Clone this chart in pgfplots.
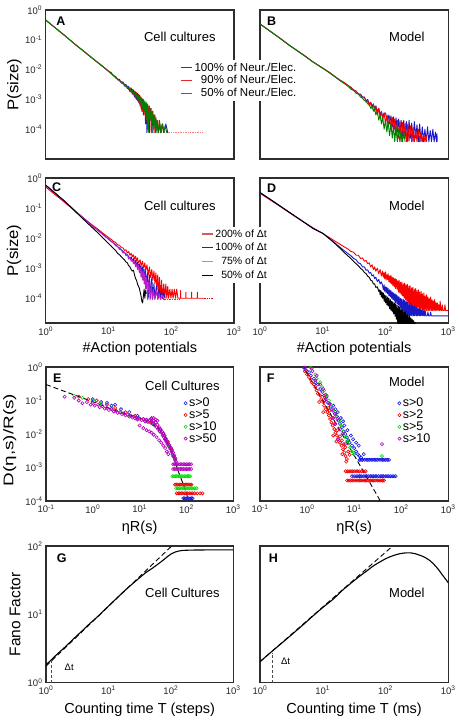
\documentclass[border=0pt]{standalone}
\usepackage{fontspec}
\setmainfont{Liberation Sans}
\usepackage{graphicx}
\usepackage{pgfplots}
\pgfplotsset{compat=1.18}
\definecolor{cBlue}{RGB}{25,25,200}
\definecolor{cRed}{RGB}{250,0,0}
\definecolor{cGreen}{RGB}{0,128,0}
\definecolor{cMag}{RGB}{185,30,200}
\definecolor{lBlue}{RGB}{50,50,160}
\definecolor{lRed}{RGB}{230,40,40}
\definecolor{lGreen}{RGB}{30,140,30}
\definecolor{lRedB}{RGB}{205,95,95}
\definecolor{lBlueB}{RGB}{35,35,150}
\definecolor{lMagB}{RGB}{190,130,205}
\definecolor{eBlue}{RGB}{20,20,230}
\definecolor{eRed}{RGB}{240,0,0}
\definecolor{eGreen}{RGB}{0,225,0}
\definecolor{eMag}{RGB}{180,0,190}
\definecolor{frm}{RGB}{45,45,45}
\newcommand{\tlab}[1]{10\textsuperscript{#1}}
\pgfplotsset{
 myax/.style={
  scale only axis,
  axis line style={line width=1.05pt, frm},
  major tick length=0pt, minor tick length=0pt,
  xminorticks=false, yminorticks=false,
  tick label style={font=\fontsize{9.5}{10}\selectfont, text=black!85},
  xlabel style={font=\fontsize{14.5}{15}\selectfont, anchor=center},
  ylabel style={font=\fontsize{15.5}{16}\selectfont, anchor=center},
 },
}
\tikzset{
 histo/.style={line width=0.9pt, mark=none, line join=round},
 circ/.style={only marks, mark=o, mark size=1.6pt, mark options={line width=0.6pt}},
 plbl/.style={font=\fontsize{13}{13}\selectfont},
 plet/.style={font=\bfseries\fontsize{12.5}{12.5}\selectfont},
}
\begin{document}
\begin{tikzpicture}
% ---------------- B ----------------
\begin{loglogaxis}[myax, at={(260pt,-10pt)}, anchor=north west, width=188.3pt, height=149pt,
 xmin=1, xmax=1000, ymin=1e-5, ymax=1, xtick={1,10,100,1000}, xticklabels={},
 ytick={1e-4,1e-3,1e-2,1e-1,1}, yticklabels={}]
\addplot[histo, cBlue] coordinates {(1,0.34)(2,0.12)(3,0.064)(5,0.030)(7,0.018)(10,0.0113)(13,0.0077)(16,0.0056)(19,0.0044)(22,0.0036)(25,0.0030)(28,0.0025)(31,0.0021)(34,0.0019)(37,0.0015)(40,0.0015)(43,0.0012)(46,0.0012)(49,0.0009)(52,0.0010)(55,0.0007)(58,0.0008)(61,0.0006)(64,0.0007)(67,0.0005)(70,0.0006)(74,0.0004)(78,0.0005)(82,0.0003)(86,0.0004)(90,0.00025)(95,0.00035)(100,0.00035)(105,0.0002)(110,0.0003)(116,0.00015)(122,0.00028)(128,0.00012)(134,0.00026)(140,0.0001)(147,0.00024)(154,0.00008)(161,0.00022)(169,0.00007)(177,0.0002)(186,0.00006)(195,0.0002)(205,0.00005)(215,0.00018)(226,0.000038)(237,0.0002)(249,0.00005)(261,0.00016)(274,0.000038)(288,0.00018)(302,0.00005)(317,0.00014)(333,0.000038)(350,0.00015)(367,0.000038)(385,0.00012)(404,0.000038)(424,0.00010)(445,0.000038)(467,0.00012)(490,0.000038)(515,0.00009)(540,0.000038)(567,0.00010)(595,0.000038)(625,0.00008)(650,0.000038)(660,0.00007)(665,0.000038)};
\addplot[histo, cRed] coordinates {(1,0.34)(2,0.12)(3,0.063)(5,0.031)(7,0.018)(10,0.0112)(13,0.0079)(16,0.0057)(19,0.0043)(22,0.0037)(25,0.0029)(28,0.0026)(31,0.0020)(34,0.0019)(37,0.0015)(40,0.0014)(43,0.0011)(46,0.0012)(49,0.0008)(52,0.0009)(55,0.0006)(58,0.0008)(61,0.0005)(64,0.0007)(67,0.0004)(70,0.0006)(74,0.0003)(78,0.0005)(82,0.00025)(86,0.0004)(90,0.0002)(95,0.00035)(100,0.00015)(105,0.0003)(110,0.00012)(116,0.00028)(122,0.0001)(128,0.00025)(134,0.00008)(140,0.00022)(147,0.00006)(154,0.0002)(161,0.00005)(169,0.00019)(177,0.000038)(186,0.00017)(195,0.00005)(205,0.00016)(215,0.000038)(226,0.00015)(237,0.00004)(249,0.00013)(261,0.000038)(274,0.00012)(288,0.000038)(302,0.0001)(317,0.000038)(333,0.0001)(350,0.000038)(367,0.00008)(385,0.000038)(404,0.00007)(424,0.000038)(445,0.00006)(455,0.000038)};
\addplot[histo, cGreen] coordinates {(1,0.34)(2,0.12)(3,0.063)(5,0.030)(7,0.018)(10,0.0110)(13,0.0076)(16,0.0055)(19,0.0042)(22,0.0034)(25,0.0028)(28,0.0022)(31,0.0020)(34,0.0016)(37,0.0015)(40,0.0012)(43,0.0011)(46,0.0009)(49,0.0009)(52,0.0007)(55,0.0007)(58,0.0005)(61,0.0006)(64,0.0004)(67,0.0005)(70,0.0003)(74,0.0004)(78,0.0002)(82,0.0003)(86,0.00015)(90,0.00025)(95,0.0001)(100,0.0002)(105,0.00008)(110,0.00018)(116,0.00006)(122,0.00015)(128,0.00005)(134,0.00013)(140,0.000038)(147,0.00012)(154,0.000038)(161,0.0001)(169,0.000038)(177,0.00009)(186,0.000038)(195,0.00008)(205,0.000038)};
\node[plbl] at (rel axis cs:0.78,0.817) {Model};
\node[plet] at (rel axis cs:0.062,0.925) {B};
\end{loglogaxis}
% ---------------- A ----------------
\begin{loglogaxis}[myax, at={(45.7pt,-10pt)}, anchor=north west, width=188.3pt, height=149pt,
 xmin=1, xmax=1000, ymin=1e-5, ymax=1, xtick={1,10,100,1000}, xticklabels={},
 ytick={1e-4,1e-3,1e-2,1e-1,1}, yticklabels={\tlab{-4},\tlab{-3},\tlab{-2},\tlab{-1},\tlab{0}},
 ylabel={\scalebox{1.08}[1]{P(size)}}, ylabel style={at={(axis description cs:-0.166,0.5)}},
 legend style={at={(0.703,0.668)}, anchor=north west, draw=none, fill=white, inner xsep=2pt, inner ysep=2pt, font=\fontsize{11.5}{12}\selectfont, row sep=1pt, column sep=1pt, nodes={inner sep=1pt}},
 legend cell align=right,
 legend image code/.code={\draw[#1] (0pt,0pt) -- (11pt,0pt);}]
\addlegendimage{lBlue, line width=1.3pt}
\addlegendentry{100\% of Neur./Elec.}
\addlegendimage{lRed, line width=1.3pt}
\addlegendentry{90\% of Neur./Elec.}
\addlegendimage{lGreen, line width=1.3pt}
\addlegendentry{50\% of Neur./Elec.}
\addplot[forget plot, histo, cBlue] coordinates {(1,0.46)(2,0.14)(3,0.068)(4,0.042)(6,0.021)(8,0.0132)(10,0.0088)(11,0.0080)(12,0.0061)(13,0.0059)(14,0.0045)(15,0.0047)(16,0.0035)(17,0.0039)(18,0.0028)(19,0.0032)(20,0.0023)(21,0.0027)(22,0.0018)(23,0.0024)(24,0.0015)(25,0.0021)(26,0.0012)(27,0.0018)(28,0.0010)(29,0.0016)(30,0.0008)(31,0.0014)(32,0.0006)(33,0.0012)(34,0.0004)(35,0.0010)(36,0.0003)(37,0.0008)(38,0.0006)(39,0.00015)(40,0.0007)(41,0.000076)(42,0.0005)(43,0.0002)(44,0.0006)(45,0.000076)(46,0.0004)(48,0.0002)(50,0.0004)(51,0.000076)(53,0.0003)(55,0.00015)(57,0.000076)(59,0.0002)(62,0.000076)(65,0.00015)(68,0.000076)(72,0.00015)(76,0.000076)(82,0.00015)(88,0.000076)};
\addplot[forget plot, histo, cRed] coordinates {(1,0.46)(2,0.14)(3,0.068)(4,0.042)(6,0.021)(8,0.0128)(10,0.0090)(11,0.0072)(12,0.0066)(13,0.0052)(14,0.0050)(15,0.0041)(16,0.0040)(17,0.0033)(18,0.0033)(19,0.0026)(20,0.0028)(21,0.0021)(22,0.0025)(23,0.0017)(24,0.0022)(25,0.0014)(26,0.0019)(27,0.0011)(28,0.0017)(29,0.0009)(30,0.0015)(31,0.0007)(32,0.0013)(33,0.0005)(34,0.0011)(35,0.0004)(36,0.0009)(37,0.0003)(38,0.0008)(40,0.0002)(41,0.0007)(42,0.0001)(44,0.0006)(45,0.0002)(47,0.0005)(48,0.000076)(50,0.0004)(52,0.0002)(54,0.0003)(55,0.000076)(57,0.00025)(59,0.0001)(61,0.0002)(63,0.000076)(66,0.00015)(69,0.000076)(73,0.00015)(77,0.000076)};
\addplot[forget plot, histo, cGreen] coordinates {(1,0.46)(2,0.14)(3,0.068)(4,0.042)(6,0.021)(8,0.0132)(10,0.0087)(11,0.0077)(12,0.0064)(13,0.0056)(14,0.0048)(15,0.0043)(16,0.0038)(17,0.0034)(18,0.0031)(19,0.0027)(20,0.0026)(21,0.0022)(22,0.0023)(23,0.0018)(24,0.0020)(25,0.0015)(26,0.0018)(27,0.0012)(28,0.0016)(29,0.0010)(30,0.0014)(31,0.0008)(32,0.0012)(33,0.0007)(34,0.0011)(35,0.0005)(36,0.0010)(37,0.0004)(38,0.0009)(39,0.0003)(40,0.0008)(41,0.0002)(42,0.0007)(43,0.000076)(45,0.0006)(46,0.0002)(48,0.0005)(49,0.000076)(51,0.0004)(53,0.0001)(55,0.0003)(57,0.000076)(59,0.0002)(62,0.000076)(65,0.0002)(68,0.000076)(72,0.00015)(76,0.000076)(80,0.00013)(85,0.000076)};
\addplot[forget plot, densely dotted, line width=0.7pt, cRed!50] coordinates {(88,0.000076)(320,0.000076)};
\node[plbl] at (rel axis cs:0.712,0.817) {Cell cultures};
\node[plet] at (rel axis cs:0.081,0.925) {A};
\end{loglogaxis}
% ---------------- D ----------------
\begin{loglogaxis}[myax, at={(260pt,-178pt)}, anchor=north west, width=188.3pt, height=145pt,
 xmin=1, xmax=1000, ymin=1.5e-5, ymax=1, xtick={1,10,100,1000}, xticklabels={\tlab{0},\tlab{1},\tlab{2},\tlab{3}},
 ytick={1e-4,1e-3,1e-2,1e-1,1}, yticklabels={},
 xlabel={\#Action potentials}, xlabel style={at={(axis description cs:0.5,-0.179)}}]
\addplot[histo, cRed] coordinates {(1,0.31)(2,0.12)(3,0.068)(5,0.034)(7,0.022)(10,0.0142)(13,0.0102)(16,0.0077)(19,0.0062)(22,0.0051)(25,0.0044)(28,0.0036)(31,0.0034)(34,0.0027)(37,0.0027)(40,0.0021)(43,0.0022)(46,0.0017)(49,0.0018)(52,0.0014)(55,0.0015)(58,0.0011)(61,0.0013)(64,0.0009)(67,0.0011)(70,0.0008)(74,0.001)(78,0.00065)(82,0.0009)(86,0.00055)
(90,8e-4)(92,5e-4)(95,7e-4)(97,4.5e-4)(100,7.5e-4)(102,4e-4)(105,6e-4)(108,4.2e-4)(110,6.5e-4)(113,3.5e-4)(116,5.5e-4)(119,3.2e-4)(122,5.8e-4)(125,3e-4)(128,5e-4)(131,2.6e-4)(135,4.8e-4)(138,2.4e-4)(142,4.5e-4)(145,2.1e-4)(149,4.2e-4)(153,2e-4)(157,3.8e-4)(161,1.6e-4)(165,3.9e-4)(169,1.5e-4)(173,3.4e-4)(178,1.3e-4)(182,3.5e-4)(187,1.2e-4)(192,3e-4)(197,1e-4)(202,3.2e-4)(207,9e-5)(212,2.8e-4)(218,8e-5)(223,2.9e-4)(229,7e-5)(235,2.5e-4)(241,6e-5)(247,2.6e-4)(253,5e-5)(260,2.2e-4)(266,3.9e-5)(273,2.3e-4)(280,5e-5)(287,2e-4)(294,3.9e-5)(302,2.1e-4)(309,3.9e-5)(317,1.8e-4)(325,5e-5)(333,1.9e-4)(342,3.9e-5)(350,1.6e-4)(359,3.9e-5)(368,1.7e-4)(378,3.9e-5)(387,1.4e-4)(397,3.9e-5)(407,1.5e-4)(417,3.9e-5)(428,1.2e-4)(439,3.9e-5)(450,1.3e-4)(461,3.9e-5)(473,1.1e-4)(485,3.9e-5)(497,1e-4)(510,3.9e-5)(523,1.1e-4)(536,3.9e-5)(550,9e-5)(564,3.9e-5)(578,8e-5)(592,3.9e-5)(607,9e-5)(623,3.9e-5)(638,7e-5)(655,3.9e-5)(671,7e-5)(688,3.9e-5)(706,6e-5)(724,3.9e-5)(742,8e-5)(761,3.9e-5)(780,3.9e-5)(800,6e-5)(820,3.9e-5)(862,3.9e-5)(884,6e-5)(906,3.9e-5)(1000,3.9e-5)};
\addplot[histo, cBlue] coordinates {(1,0.33)(2,0.125)(3,0.07)(5,0.034)(7,0.021)(10,0.0145)(13,0.0094)(16,0.0066)(19,0.0049)(22,0.0038)(25,0.0031)(28,0.0026)(31,0.0021)(34,0.0019)(37,0.0015)(40,0.0014)(43,0.0011)(46,0.0011)(49,0.00085)(52,0.00088)(55,0.00068)(58,0.00072)(61,0.00055)(64,0.0006)(67,0.00045)(70,0.0005)(74,0.00036)(78,0.00042)(82,0.0003)(86,0.00035)
(90,2.6e-4)(92,1.9e-4)(95,2.8e-4)(97,1.7e-4)(100,2.4e-4)(102,1.5e-4)(105,2.3e-4)(108,1.4e-4)(110,2.1e-4)(113,1.2e-4)(116,1.9e-4)(119,1.1e-4)(122,1.8e-4)(125,1e-4)(128,1.6e-4)(131,9e-5)(135,1.5e-4)(138,8e-5)(142,1.4e-4)(145,7e-5)(149,1.3e-4)(153,6.5e-5)(157,1.2e-4)(161,6e-5)(165,1.1e-4)(169,5e-5)(173,1e-4)(178,4.5e-5)(182,9.5e-5)(187,4e-5)(192,9e-5)(197,3.5e-5)(202,8.5e-5)(207,3e-5)(212,8e-5)(218,2.6e-5)(223,7.5e-5)(229,2.6e-5)(235,7e-5)(241,2.6e-5)(247,6.5e-5)(253,2.6e-5)(260,6e-5)(266,2.6e-5)(273,5.5e-5)(280,2.6e-5)(287,5.5e-5)(294,2.6e-5)(302,5e-5)(309,2.6e-5)(317,5e-5)(325,2.6e-5)(333,4.5e-5)(342,2.6e-5)(350,4.5e-5)(359,2.6e-5)(368,4e-5)(378,2.6e-5)(387,4e-5)(397,2.6e-5)(407,3.8e-5)(417,2.6e-5)(428,3.8e-5)(439,2.6e-5)(461,2.6e-5)(473,3.5e-5)(485,2.6e-5)(510,2.6e-5)(523,3.5e-5)(536,2.6e-5)(1000,2.6e-5)};
\addplot[histo, black] coordinates {(1,0.33)(2,0.125)(3,0.07)(5,0.034)(7,0.021)(10,0.0145)(13,0.0092)(16,0.0063)(19,0.0045)(22,0.0033)(25,0.0026)(28,0.0021)(31,0.0017)(34,0.0014)(37,0.0012)(40,0.00098)(43,0.00088)(46,0.00072)(49,0.00066)(52,0.00054)(55,0.0005)(58,0.0004)(61,0.00038)(64,0.0003)(67,0.0003)(70,0.00023)(74,0.00024)(78,0.00017)
(80,1.9e-4)(82,1.3e-4)(84,1.8e-4)(86,1.1e-4)(88,1.6e-4)(90,1e-4)(92,1.5e-4)(95,8e-5)(97,1.3e-4)(100,7e-5)(102,1.2e-4)(105,6e-5)(108,1.1e-4)(110,5.5e-5)(113,1e-4)(116,4.5e-5)(119,9e-5)(122,4e-5)(125,8e-5)(128,3.5e-5)(131,7.5e-5)(135,3e-5)(138,7e-5)(142,2.5e-5)(145,6.5e-5)(149,2e-5)(153,6e-5)(157,1.2e-5)(161,5.5e-5)(165,1.2e-5)(169,5e-5)(173,1.2e-5)(178,4.5e-5)(182,1.2e-5)(187,4e-5)(192,1.2e-5)(197,3.8e-5)(202,1.2e-5)(207,3.5e-5)(212,1.2e-5)(218,3e-5)(223,1.2e-5)(229,2.8e-5)(235,1.2e-5)(241,2.5e-5)(247,1.2e-5)(253,2.2e-5)(260,1.2e-5)(266,2e-5)(273,1.2e-5)(280,1.8e-5)(287,1.2e-5)(294,1.6e-5)(302,1.2e-5)};
\node[plbl] at (rel axis cs:0.78,0.81) {Model};
\node[plet] at (rel axis cs:0.062,0.93) {D};
\end{loglogaxis}
% ---------------- C ----------------
\begin{loglogaxis}[myax, at={(45.7pt,-178pt)}, anchor=north west, width=188.3pt, height=145pt,
 xmin=1, xmax=1000, ymin=1.5e-5, ymax=1, xtick={1,10,100,1000}, xticklabels={\tlab{0},\tlab{1},\tlab{2},\tlab{3}},
 ytick={1e-4,1e-3,1e-2,1e-1,1}, yticklabels={\tlab{-4},\tlab{-3},\tlab{-2},\tlab{-1},\tlab{0}},
 ylabel={\scalebox{1.08}[1]{P(size)}}, ylabel style={at={(axis description cs:-0.168,0.5)}},
 xlabel={\#Action potentials}, xlabel style={at={(axis description cs:0.5,-0.179)}},
 legend style={at={(0.815,0.665)}, anchor=north west, draw=none, fill=white, inner xsep=2pt, inner ysep=2pt, font=\fontsize{10.5}{11}\selectfont, row sep=3pt, column sep=1pt, nodes={inner sep=0.8pt}},
 legend cell align=right,
 legend image code/.code={\draw[#1] (0pt,0pt) -- (11pt,0pt);}]
\addlegendimage{lRedB, line width=1.3pt}
\addlegendentry{200\% of Δt}
\addlegendimage{lBlueB, line width=1.3pt}
\addlegendentry{100\% of Δt}
\addlegendimage{lMagB, line width=1.3pt}
\addlegendentry{75\% of Δt}
\addlegendimage{black, line width=1.3pt}
\addlegendentry{50\% of Δt}
\addplot[forget plot, histo, cRed] coordinates {(1,0.5)(2,0.155)(3,0.077)(4,0.047)(5,0.032)(6,0.024)(7,0.019)(8,0.015)(9,0.0125)(10,0.0105)(11,0.0092)(12,0.0078)(13,0.0072)(14,0.0060)(15,0.0058)(16,0.0048)(17,0.0048)(18,0.0039)(19,0.0041)(20,0.0032)(21,0.0036)(22,0.0027)(23,0.0031)(24,0.0024)(25,0.0028)(26,0.0020)(27,0.0025)(28,0.0017)(29,0.0022)(30,0.0015)(32,0.0019)(33,0.0012)(35,0.0017)(36,0.0010)(38,0.0015)(39,0.0008)(41,0.0013)(43,0.0006)(45,0.0011)(47,0.0005)(49,0.0009)(51,0.0004)(53,0.0008)(55,0.0003)(57,0.0007)(59,0.0002)(61,0.0006)(63,0.0001)(65,0.0005)(67,0.0001)(70,0.0004)(73,0.0001)(76,0.0003)(79,0.0001)(82,0.0003)(85,0.0001)(88,0.00025)(91,0.0001)(95,0.0002)(99,0.0001)(103,0.0002)(107,0.0001)(112,0.0002)(117,0.0001)(122,0.0002)(128,0.0001)(140,0.0001)(141,0.00018)(142,0.0001)(170,0.0001)(171,0.00016)(172,0.0001)(210,0.0001)(211,0.00016)(212,0.0001)(260,0.0001)(261,0.00016)(262,0.0001)(330,0.0001)};
\addplot[forget plot, histo, cBlue] coordinates {(1,0.57)(2,0.17)(3,0.077)(4,0.046)(5,0.031)(6,0.022)(7,0.017)(8,0.014)(9,0.0112)(10,0.0094)(11,0.008)(12,0.0068)(13,0.0061)(14,0.0052)(15,0.0047)(16,0.0041)(17,0.0037)(18,0.0033)(19,0.003)(20,0.0028)(22,0.0021)(23,0.0024)(24,0.0017)(25,0.0021)(26,0.0014)(27,0.0018)(28,0.0012)(29,0.0016)(30,0.0010)(31,0.0014)(32,0.0008)(33,0.0012)(34,0.0007)(35,0.0011)(36,0.0005)(37,0.0009)(38,0.0004)(39,0.0008)(40,0.0003)(42,0.0007)(43,0.0001)(45,0.0006)(47,0.0001)(49,0.0005)(51,0.0001)(53,0.0003)(55,0.0001)(58,0.00025)(61,0.0001)(64,0.0002)(67,0.0001)(70,0.00018)(73,0.0001)(76,0.00015)(80,0.0001)};
\addplot[forget plot, histo, cMag] coordinates {(1,0.58)(2,0.17)(3,0.078)(4,0.046)(5,0.030)(6,0.022)(7,0.017)(8,0.0135)(9,0.011)(10,0.0092)(11,0.0078)(12,0.0069)(13,0.0056)(14,0.0052)(15,0.0042)(16,0.0041)(17,0.0032)(18,0.0034)(19,0.0026)(20,0.0028)(21,0.0020)(22,0.0023)(23,0.0017)(24,0.0019)(25,0.0014)(26,0.0017)(27,0.0011)(28,0.0014)(29,0.0009)(30,0.0013)(31,0.0007)(32,0.0011)(33,0.0005)(34,0.0009)(35,0.0004)(36,0.0008)(37,0.0003)(38,0.0007)(39,0.0002)(40,0.0005)(42,0.00009)(44,0.0004)(46,0.00009)(48,0.0003)(50,0.00009)(52,0.0002)(55,0.00009)(58,0.00018)(61,0.00009)(64,0.00015)(68,0.00009)(72,0.00013)(76,0.00009)(80,0.00009)};
\addplot[forget plot, histo, black] coordinates {(1,0.58)(2,0.17)(3,0.075)(4,0.042)(5,0.027)(6,0.019)(7,0.014)(8,0.0105)(9,0.0083)(10,0.0066)(11,0.0055)(12,0.0045)(13,0.0039)(14,0.0031)(15,0.0028)(16,0.0024)(17,0.0021)(18,0.0019)(19,0.0016)(20,0.0015)(21,0.0012)(22,0.0011)(23,0.0009)(24,0.0008)(25,0.00085)(26,0.0006)(27,0.00045)(28,0.0004)(29,0.0003)(30,0.00025)(31,0.00022)(32,0.00016)(33,0.00012)(34,0.00008)(35,0.00007)(36,0.00012)(37,0.0002)(38,0.0001)(39,0.00018)(40,0.00014)};
\addplot[forget plot, densely dotted, line width=0.7pt, cMag] coordinates {(80,0.00009)(140,0.00009)};
\addplot[forget plot, densely dotted, line width=0.7pt, cRed] coordinates {(330,0.0001)(470,0.0001)};
\node[plbl] at (rel axis cs:0.712,0.81) {Cell cultures};
\node[plet] at (rel axis cs:0.058,0.94) {C};
\end{loglogaxis}
% ---------------- E ----------------
\begin{loglogaxis}[myax, at={(46pt,-367pt)}, anchor=north west, width=187.3pt, height=134pt,
 xmin=0.1, xmax=1000, ymin=1e-4, ymax=1, xtick={0.1,1,10,100,1000}, xticklabels={\tlab{-1},\tlab{0},\tlab{1},\tlab{2},\tlab{3}},
 ytick={1e-4,1e-3,1e-2,1e-1,1}, yticklabels={\tlab{-4},\tlab{-3},\tlab{-2},\tlab{-1},\tlab{0}},
 ylabel={\scalebox{1.35}[1]{D(η,s)/R(s)}}, ylabel style={at={(axis description cs:-0.193,0.455)}, font=\fontsize{14}{15}\selectfont},
 xlabel={ηR(s)}, xlabel style={at={(axis description cs:0.5,-0.2)}},
 legend style={at={(0.72,0.79)}, anchor=north west, draw=none, fill=none, font=\fontsize{12.5}{12.5}\selectfont, row sep=0pt, column sep=1pt, nodes={inner sep=0.8pt}},
 legend cell align=left,
 legend image code/.code={\draw[#1] plot coordinates {(0pt,0pt)};}]
\addplot[circ, eBlue] coordinates {(1,0.11)(1.5,0.09)(2,0.085)(2.5,0.07)(3,0.075)(4,0.055)(6,0.045)(9,0.035)(14,0.026)(20,0.02)(28,0.013)(36,0.007)(44,0.004)(52,0.0022)(86,0.00012)(92,0.00012)(98,0.00012)(105,0.00012)(112,0.00012)(120,0.00012)(128,0.00012)(135,0.00012)};
\addlegendentry{s>0}
\addplot[circ, eRed] coordinates {(0.5,0.13)(0.8,0.11)(1.2,0.1)(2,0.075)(3,0.06)(5,0.045)(8,0.035)(12,0.028)(18,0.022)(25,0.015)(32,0.01)(40,0.006)(48,0.0035)(55,0.002)(57,0.00031)(61,0.00031)(66,0.00031)(71,0.00031)(76,0.00031)(82,0.00031)(88,0.00031)(95,0.00031)(102,0.00031)(110,0.00031)(119,0.00031)(128,0.00031)(62,0.00017)(67,0.00017)(72,0.00017)(78,0.00017)(84,0.00017)(91,0.00017)(98,0.00017)(106,0.00017)(115,0.00017)(125,0.00017)(136,0.00017)(150,0.00017)(170,0.00017)(195,0.00017)(220,0.00017)};
\addlegendentry{s>5}
\addplot[circ, eGreen] coordinates {(0.4,0.14)(0.6,0.12)(1.0,0.1)(1.5,0.08)(2.5,0.06)(4,0.045)(6,0.036)(9,0.03)(14,0.024)(20,0.02)(27,0.012)(33,0.009)(38,0.006)(42,0.0045)(46,0.0035)(50,0.0025)(54,0.002)(58,0.0016)(50,0.00055)(54,0.00055)(58,0.00055)(62,0.00055)(67,0.00055)(72,0.00055)(78,0.00055)(84,0.00055)(90,0.00055)(97,0.00055)(104,0.00055)(112,0.00055)(120,0.00055)(60,0.00024)(65,0.00024)(70,0.00024)(76,0.00024)(82,0.00024)(88,0.00024)(95,0.00024)(102,0.00024)(110,0.00024)(118,0.00024)(127,0.00024)(137,0.00024)(150,0.00024)(165,0.00024)};
\addlegendentry{s>10}
\addplot[circ, eMag] coordinates {(0.25,0.13)(0.4,0.12)(0.5,0.1)(0.6,0.083)(0.75,0.09)(0.9,0.075)(1.0,0.085)(1.1,0.07)(1.3,0.075)(1.4,0.063)(1.6,0.068)(1.8,0.057)(2.0,0.06)(2.2,0.052)(2.5,0.055)(2.8,0.047)(3.1,0.05)(3.4,0.043)(3.8,0.045)(4.2,0.039)(4.6,0.041)(5.0,0.036)(5.5,0.038)(6.0,0.033)(6.5,0.035)(7,0.031)(7.5,0.033)(8,0.029)(8.5,0.031)(9,0.027)(10,0.029)(11,0.026)(12,0.028)(13,0.024)(14,0.027)(15,0.023)(16,0.026)(17,0.022)(17.5,0.028)(18,0.024)(19,0.02)(20,0.025)(21,0.018)(22,0.022)(23,0.016)(24,0.019)(25,0.014)(26,0.016)(27,0.012)(28,0.014)(29,0.011)(30,0.012)(31,0.009)(32,0.0105)(33,0.008)(34,0.009)(35,0.0068)(36,0.0075)(37,0.0058)(38,0.0062)(39,0.005)(40,0.0054)(42,0.0043)(43,0.0047)(45,0.0036)(46,0.004)(48,0.003)(49,0.0033)(51,0.0025)(52,0.0028)(54,0.0021)(55,0.0023)(57,0.0017)(58,0.0019)(60,0.0015)(10,0.018)(12,0.015)(14,0.013)(16,0.012)(18,0.011)(20,0.0095)(23,0.008)(26,0.0065)(29,0.0055)(32,0.0045)(35,0.0038)(38,0.003)(41,0.0025)(18,0.03)(20,0.03)(22,0.027)(24,0.025)(52,0.00125)(56,0.00125)(60,0.00125)(64,0.00125)(69,0.00125)(74,0.00125)(80,0.00125)(86,0.00125)(93,0.00125)(100,0.00125)(108,0.00125)(117,0.00125)(126,0.00125)(52,0.0009)(56,0.0009)(60,0.0009)(64,0.0009)(69,0.0009)(74,0.0009)(80,0.0009)(86,0.0009)(93,0.0009)(100,0.0009)(108,0.0009)(117,0.0009)(126,0.0009)};
\addlegendentry{s>50}
\addplot[forget plot, black, dash pattern=on 5pt off 3pt, line width=0.9pt] coordinates {(0.1,0.30)(0.3,0.17)(1,0.092)(3,0.05)(10,0.03)(15,0.024)(20,0.019)(25,0.0145)(30,0.011)(35,0.0075)(40,0.005)(45,0.0035)(52,0.0021)(60,0.0012)(70,0.00065)(80,0.0004)(90,0.00026)(100,0.00017)(105,0.00013)};
\node[plbl] at (rel axis cs:0.728,0.856) {Cell Cultures};
\node[plet] at (rel axis cs:0.06,0.92) {E};
\end{loglogaxis}
% ---------------- F ----------------
\begin{loglogaxis}[myax, at={(260pt,-367pt)}, anchor=north west, width=188.3pt, height=134pt,
 xmin=0.1, xmax=1000, ymin=1e-4, ymax=1, xtick={0.1,1,10,100,1000}, xticklabels={\tlab{-1},\tlab{0},\tlab{1},\tlab{2},\tlab{3}},
 ytick={1e-4,1e-3,1e-2,1e-1,1}, yticklabels={},
 xlabel={ηR(s)}, xlabel style={at={(axis description cs:0.5,-0.2)}},
 legend style={at={(0.715,0.79)}, anchor=north west, draw=none, fill=none, font=\fontsize{12.5}{12.5}\selectfont, row sep=0pt, column sep=1pt, nodes={inner sep=0.8pt}},
 legend cell align=left,
 legend image code/.code={\draw[#1] plot coordinates {(0pt,0pt)};}]
\addplot[circ, eBlue] coordinates {(0.86,0.95)(0.95,0.8)(1.1,0.7)(1.2,0.55)(1.4,0.45)(1.5,0.35)(1.7,0.3)(1.9,0.22)(2.1,0.18)(2.3,0.14)(2.5,0.11)(2.8,0.085)(3.2,0.065)(3.5,0.05)(3.9,0.04)(4.3,0.033)(4.6,0.025)(5.0,0.02)(5.5,0.016)(6.0,0.012)(6.5,0.01)(7.0,0.008)(7.5,0.0065)(8,0.0055)(9,0.0045)(10,0.0038)(11,0.003)(12,0.0025)(13,0.0022)(14,0.002)(4.0,0.055)(4.5,0.045)(5.2,0.03)(5.8,0.024)(6.2,0.018)(7.2,0.013)(8.5,0.009)(9.5,0.007)(11,0.0055)(12.5,0.0045)(10,0.0025)(16,0.0025)(3.0,0.08)(3.6,0.07)(2.6,0.13)(13,0.0017)(14,0.0017)(15,0.0017)(16.5,0.0017)(18,0.0017)(19.5,0.0017)(21,0.0017)(23,0.0017)(25,0.0017)(27,0.0017)(29,0.0017)(31,0.0017)(34,0.0017)(37,0.0017)(40,0.0017)(43,0.0017)(47,0.0017)(51,0.0017)(55,0.0017)(9,0.00055)(10,0.00055)(11,0.00055)(12,0.00055)(13,0.00055)(14,0.00055)(15.5,0.00055)(17,0.00055)(18.5,0.00055)(20,0.00055)(22,0.00055)(24,0.00055)(26,0.00055)(28,0.00055)(30,0.00055)(33,0.00055)(36,0.00055)(39,0.00055)(42,0.00055)(46,0.00055)(50,0.00055)(54,0.00055)(59,0.00055)(64,0.00055)(70,0.00055)(76,0.00055)};
\addlegendentry{s>0}
\addplot[circ, eRed] coordinates {(0.9,0.75)(1.0,0.6)(1.1,0.5)(1.2,0.42)(1.25,0.35)(1.4,0.3)(1.5,0.25)(1.6,0.2)(1.7,0.16)(1.9,0.14)(2.0,0.11)(2.2,0.09)(2.3,0.07)(2.5,0.055)(2.7,0.045)(2.9,0.036)(3.1,0.028)(3.3,0.022)(3.5,0.018)(3.8,0.014)(4.0,0.011)(4.3,0.009)(4.6,0.007)(5.0,0.0055)(5.4,0.0045)(5.8,0.0035)(6.2,0.0028)(6.6,0.0022)(7.0,0.0018)(2.4,0.12)(2.8,0.06)(3.0,0.05)(3.4,0.03)(3.9,0.02)(4.4,0.013)(5.0,0.0085)(5.5,0.0065)(6,0.005)(6.5,0.004)(7.5,0.003)(8,0.0024)(1.8,0.09)(2.2,0.045)(3.6,0.009)(4.2,0.006)(5.6,0.0025)(6.8,0.0015)(6.6,0.00077)(7.2,0.00077)(7.8,0.00077)(8.5,0.00077)(9.2,0.00077)(10,0.00077)(11,0.00077)(12,0.00077)(13,0.00077)(14.5,0.00077)(16,0.00077)(17.5,0.00077)(7.1,0.00041)(7.7,0.00041)(8.4,0.00041)(9.1,0.00041)(10,0.00041)(11,0.00041)(12,0.00041)(13,0.00041)(14,0.00041)(15.5,0.00041)(17,0.00041)(18.5,0.00041)(20,0.00041)(22,0.00041)(24,0.00041)(26,0.00041)(28,0.00041)(31,0.00041)(34,0.00041)(37,0.00041)(40,0.00041)(43,0.00041)};
\addlegendentry{s>2}
\addplot[circ, eGreen] coordinates {(1.2,0.95)(1.5,0.6)(1.6,0.45)(1.9,0.35)(2.1,0.25)(2.3,0.2)(2.6,0.14)(2.9,0.1)(3.2,0.075)(3.6,0.05)(4.2,0.035)(4.8,0.025)(5.3,0.018)(5.8,0.012)(6.5,0.008)(7.3,0.006)(8.2,0.004)(9,0.003)(10,0.0025)(39,0.0022)};
\addlegendentry{s>5}
\addplot[circ, eMag] coordinates {(0.9,0.95)(1.25,0.9)(1.3,0.75)(1.6,0.55)(1.5,0.4)(1.9,0.3)(2.2,0.22)(2.5,0.15)(2.4,0.1)(3.0,0.08)(3.4,0.055)(3.9,0.04)(4.4,0.028)(3.6,0.03)(4.0,0.02)(5.0,0.014)(5.6,0.01)(4.5,0.007)(6.4,0.005)(39,0.005)};
\addlegendentry{s>10}
\addplot[forget plot, black, dash pattern=on 5pt off 3pt, line width=0.9pt] coordinates {(0.78,1.2)(38,0.000088)};
\node[plbl] at (rel axis cs:0.78,0.89) {Model};
\node[plet] at (rel axis cs:0.057,0.92) {F};
\end{loglogaxis}
% ---------------- G ----------------
\begin{loglogaxis}[myax, at={(46pt,-546pt)}, anchor=north west, width=187.3pt, height=136.7pt,
 xmin=1, xmax=1000, ymin=1, ymax=100, xtick={1,10,100,1000}, xticklabels={\tlab{0},\tlab{1},\tlab{2},\tlab{3}},
 ytick={1,10,100}, yticklabels={\tlab{0},\tlab{1},\tlab{2}},
 ylabel={Fano Factor}, ylabel style={at={(axis description cs:-0.165,0.5)}},
 xlabel={Counting time T (steps)}, xlabel style={at={(axis description cs:0.5,-0.195)}}]
\addplot[black, dash pattern=on 5pt off 3pt, line width=0.9pt] coordinates {(1,1.75)(115,110)};
\addplot[black, line width=1.1pt, smooth] coordinates {(1,1.82)(1.5,2.6)(2,3.3)(3,4.7)(4,6.0)(5,7.3)(7,9.6)(10,13.2)(15,18.8)(20,24)(30,33)(40,41)(50,47)(60,53)(70,59)(80,65)(90,71)(100,76)(115,81)(130,84)(150,86)(200,87)(300,87.5)(1000,88)};
\addplot[black!70, densely dashed, line width=0.6pt] coordinates {(1.23,1)(1.23,2.1)};
\node[font=\fontsize{9.5}{10}\selectfont, anchor=west] at (axis cs:1.75,1.71) {Δt};
\node[plbl] at (rel axis cs:0.728,0.66) {Cell Cultures};
\node[plet] at (rel axis cs:0.084,0.91) {G};
\end{loglogaxis}
% ---------------- H ----------------
\begin{loglogaxis}[myax, at={(260pt,-546pt)}, anchor=north west, width=188.3pt, height=136.7pt,
 xmin=1, xmax=1000, ymin=1, ymax=100, xtick={1,10,100,1000}, xticklabels={\tlab{0},\tlab{1},\tlab{2},\tlab{3}},
 ytick={1,10,100}, yticklabels={},
 xlabel={Counting time T (ms)}, xlabel style={at={(axis description cs:0.5,-0.195)}}]
\addplot[black, dash pattern=on 5pt off 3pt, line width=0.9pt] coordinates {(1,2.03)(140,106)};
\addplot[black, line width=1.1pt, smooth] coordinates {(1,2.03)(1.5,2.8)(2,3.5)(3,4.8)(5,7.2)(7,9.5)(10,12.6)(15,17)(20,22)(30,30)(40,37)(50,43)(60,49)(70,54)(80,58)(100,65)(120,70)(150,75)(180,78)(220,79.5)(260,79)(300,77)(400,70)(500,62)(600,53)(700,45)(800,38)(900,33)(1000,29)};
\addplot[black!70, densely dashed, line width=0.6pt] coordinates {(1.57,1)(1.57,2.75)};
\node[font=\fontsize{9.5}{10}\selectfont, anchor=west] at (axis cs:1.9,2.03) {Δt};
\node[plbl] at (rel axis cs:0.78,0.655) {Model};
\node[plet] at (rel axis cs:0.071,0.91) {H};
\end{loglogaxis}
\pgfresetboundingbox
\path[use as bounding box] (0,0) rectangle (460pt,-723pt);
\end{tikzpicture}
\end{document}
